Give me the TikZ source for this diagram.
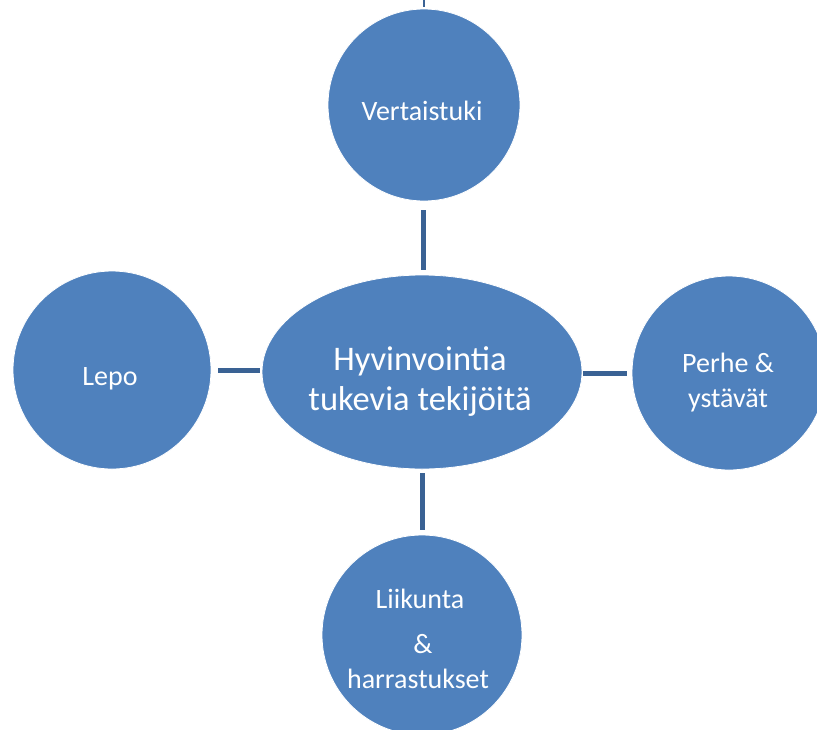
\documentclass[tikz,border=0pt]{standalone}
\usepackage{fontspec}
\setmainfont{Carlito}
\usetikzlibrary{shapes.geometric}
\definecolor{bubble}{RGB}{79,129,189}
\definecolor{linkc}{RGB}{58,98,148}
\tikzset{
  bub/.style={circle, fill=bubble, draw=white, line width=0.8pt, minimum size=#1, inner sep=0pt},
  link/.style={draw=linkc, line width=5pt},
  lbl/.style={text=white, font=\fontsize{28}{34}\selectfont, anchor=base, inner sep=0pt},
  clbl/.style={text=white, font=\fontsize{34.5}{41}\selectfont, anchor=base, inner sep=0pt}
}
\begin{document}
\begin{tikzpicture}[x=1pt,y=-1pt]
\path[use as bounding box] (0,0) rectangle (817,729);
\clip (0,0) rectangle (817,729);
\fill[white] (0,0) rectangle (817,729);
% shapes
\node[ellipse, fill=bubble, draw=white, line width=0.8pt, minimum width=320pt, minimum height=194pt, inner sep=0pt] (c) at (422,372) {};
\node[bub=192pt] (v) at (424,105) {};
\node[bub=198pt] (l) at (112,370) {};
\node[bub=194pt] (p) at (729,373) {};
\node[bub=200pt] (k) at (422,635) {};
% connectors
\coordinate (top) at (424,0);
\draw[linkc, line width=1.5pt] (top) -- (424,7);
\draw[link] (423,210) -- (423,270);
\draw[link] (218,370) -- (260,370);
\draw[link] (583,373) -- (627,373);
\draw[link] (422,473) -- (422,530);
% texts
\node[lbl] (tv) at (422,120) {Vertaistuki};
\node[lbl] (tl) at (110,385) {Lepo};
\node[lbl] (tp1) at (728,372) {Perhe \&};
\node[lbl] (tp2) at (728,407) {ystävät};
\node[lbl] (tk1) at (420,608) {Liikunta};
\node[lbl] (tk2) at (423,653) {\&};
\node[lbl] (tk3) at (418,688) {harrastukset};
\node[clbl] (tc1) at (420,370) {Hyvinvointia};
\node[clbl] (tc2) at (420,410) {tukevia tekijöitä};
\end{tikzpicture}
\end{document}
